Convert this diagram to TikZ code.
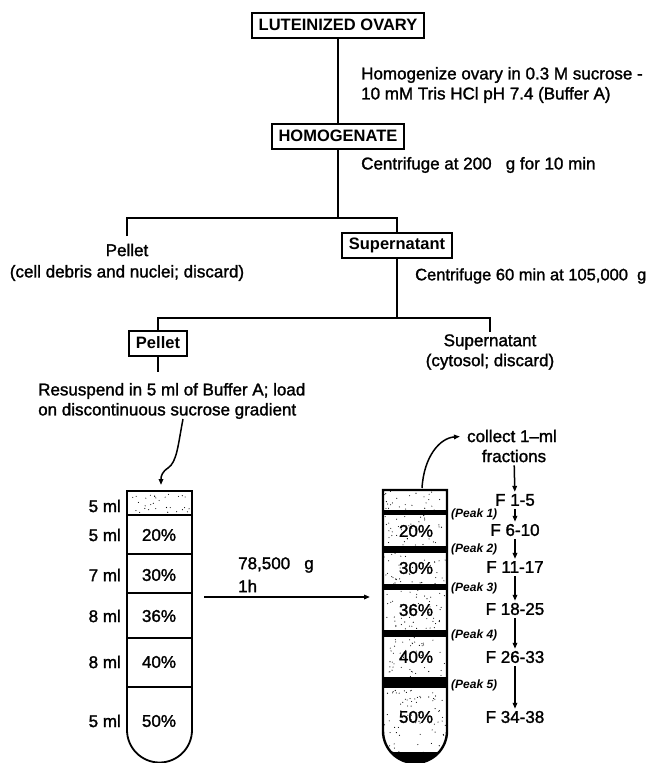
\documentclass[tikz,border=0pt]{standalone}
\usepackage{fontspec}
\setmainfont{Liberation Sans}
\newfontfamily\medfont[FakeBold=1.5]{Liberation Sans}
\usetikzlibrary{arrows.meta}
\newcommand\mystipple[5]{%
  \foreach \k in {1,...,#5}{%
    \pgfmathsetmacro\sx{#1+rnd*(#3-#1)}%
    \pgfmathsetmacro\sy{#2+rnd*(#4-#2)}%
    \fill (\sx,\sy) circle[radius=0.55pt];}}
\begin{document}
\begin{tikzpicture}[x=1pt,y=-1pt,
  every node/.style={font=\medfont\fontsize{17}{20}\selectfont, inner sep=0pt},
  box/.style={draw, line width=2pt, font=\rmfamily\bfseries\fontsize{16.5}{20}\selectfont,
    inner xsep=7pt, minimum height=25pt},
  conn/.style={line width=2pt},
  lbl/.style={anchor=west, align=left},
  cen/.style={align=center},
  peak/.style={font=\rmfamily\bfseries\itshape\fontsize{12}{14}\selectfont, anchor=west},
  tip/.style={-{Triangle[length=6pt,width=4.5pt]}, line width=1.5pt},
  tubeline/.style={line width=1.8pt},
  band/.style={fill=black},
]
\useasboundingbox (0,0) rectangle (652,763);
\pgfmathsetseed{7}

% ---- flow chart ----
\node[box] (lo) at (338,25) {LUTEINIZED OVARY};
\node[box] (hom) at (338,136) {HOMOGENATE};
\draw[conn] (lo.south) -- (hom.north);
\node[lbl] (t1) at (361,85) {Homogenize ovary in 0.3 M sucrose -\\10 mM Tris HCl pH 7.4 (Buffer A)};
\node[lbl] (t2) at (361,165) {Centrifuge at 200\ \ \ g for 10 min};

\coordinate (j1) at (338,218);
\draw[conn] (hom.south) -- (j1);
\node (pel1) at (127,250) {Pellet};
\node (deb) at (127,273) {(cell debris and nuclei; discard)};
\coordinate (pel1end) at (127,236);
\node[box] (sup1) at (397,245) {Supernatant};
\draw[conn] (pel1end) |- (j1) -| (sup1.north);
\node[lbl, font=\medfont\fontsize{16.5}{20}\selectfont] (t3) at (415,276) {Centrifuge 60 min at 105,000\ \ g};

\coordinate (j2) at (397,318);
\draw[conn] (sup1.south) -- (j2);
\node[box] (pel2) at (158,343) {Pellet};
\node[cen] (sup2) at (490,352) {Supernatant\\(cytosol; discard)};
\coordinate (sup2end) at (490,332);
\draw[conn] (pel2.north) |- (j2) -| (sup2end);
\coordinate (pel2end) at (158,372);
\draw[conn] (pel2.south) -- (pel2end);
\node[lbl] (t4) at (38,401) {Resuspend in 5 ml of Buffer A; load\\on discontinuous sucrose gradient};

% wavy arrow to left tube
\coordinate (wstart) at (183,419);
\coordinate (wend) at (161,485);
\draw[tip] (wstart) .. controls (178,445) and (177,462) .. (168,468) .. controls (162,472) and (161,476) .. (wend);

% ---- left tube ----
\mystipple{129}{493}{190}{513}{30}
\foreach \y in {515,554,593,638,687} \draw[line width=1.4pt] (127,\y) -- (192,\y);
\draw[tubeline] (127,491) -- (127,730) arc[start angle=180,end angle=360,radius=32.5pt] -- (192,491) -- cycle;
\foreach \v/\y in {5 ml/506,5 ml/535,7 ml/575,8 ml/616,8 ml/662,5 ml/721}
  \node[anchor=east] at (121,\y) {\v};
\foreach \p/\y in {20/535,30/575,36/616,40/662,50/721}
  \node at (159,\y) {\p\%};

% ---- centrifugation arrow ----
\coordinate (ha1) at (204,597);
\coordinate (ha2) at (370,597);
\draw[tip] (ha1) -- (ha2);
\node[lbl] (g1) at (238,565) {78,500\ \ \ g};
\node[lbl] (g2) at (238,586) {1h};

% ---- right tube ----
\begin{scope}
\clip (383,490) -- (383,731) arc[start angle=180,end angle=360,radius=32pt] -- (447,490) -- cycle;
\mystipple{384}{491}{446}{510}{25}
\mystipple{384}{515}{446}{546}{40}
\mystipple{384}{553}{446}{584}{40}
\mystipple{384}{590}{446}{630}{50}
\mystipple{384}{637}{446}{677}{50}
\mystipple{384}{688}{446}{762}{85}
\foreach \a/\b in {510/515,546/553,584/590,630/637,677/688}
  \fill[band] (380,\a) rectangle (450,\b);
\fill[band] (380,752) rectangle (450,765);
\end{scope}
\draw[line width=2.4pt] (383,490) -- (383,731) arc[start angle=180,end angle=360,radius=32pt] -- (447,490) -- cycle;
\foreach \p/\y in {20/531,30/568,36/610,40/657,50/717}
  \node at (416,\y) {\p\%};
\foreach \n/\y in {1/514,2/549,3/588,4/635,5/685}
  \node[peak] at (451,\y) {(Peak \n)};

% fractions
\node (col) at (512,436) {collect 1–ml};
\node (fr) at (514,456) {fractions};
\coordinate (rtop) at (422,488);
\draw[tip, shorten >=7pt] (rtop) .. controls (424,456) and (440,438) .. (col.west);
\node (f1) at (515,500) {F 1-5};
\node (f2) at (515,530) {F 6-10};
\node (f3) at (515,567) {F 11-17};
\node (f4) at (515,609) {F 18-25};
\node (f5) at (515,657) {F 26-33};
\node (f6) at (515,717) {F 34-38};
\foreach \a/\b in {fr/f1,f1/f2,f2/f3,f3/f4,f4/f5,f5/f6}
  \draw[tip, shorten <=3pt, shorten >=2pt] (\a) -- (\b);
\end{tikzpicture}
\end{document}
